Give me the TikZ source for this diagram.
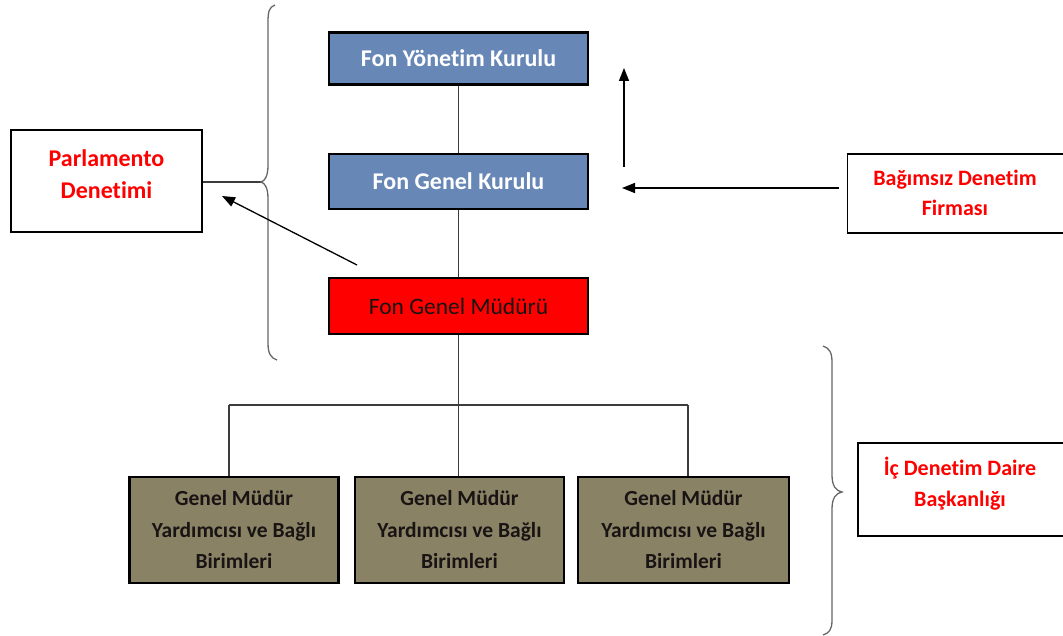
\documentclass[tikz,border=0pt]{standalone}
\usepackage{fontspec}
\setmainfont{Carlito}[Ligatures=NoCommon]
\usetikzlibrary{arrows.meta}
\definecolor{boardblue}{RGB}{103,135,183}
\definecolor{unitolive}{RGB}{138,130,101}
\definecolor{txtdark}{RGB}{25,20,20}
\definecolor{lineg}{RGB}{60,60,60}
\tikzset{
  orgbox/.style={draw=black, line width=2.2pt, rectangle, inner sep=0pt, align=center},
  bluebox/.style={orgbox, fill=boardblue, text=white, minimum width=259pt, minimum height=52pt,
    font=\fontsize{24}{30}\selectfont\bfseries},
  unitbox/.style={orgbox, fill=unitolive, text=txtdark, minimum width=209pt, minimum height=106pt,
    font=\fontsize{21.5}{31.5}\selectfont\bfseries},
  auditbox/.style={draw=black, line width=1.2pt, rectangle, inner sep=0pt, fill=white},
  audittxt/.style={text=red, align=center, inner sep=0pt},
  conn/.style={draw=lineg, line width=1.3pt},
  brace/.style={draw=gray!80!black, line width=1.3pt},
  arr/.style={draw=black, line width=1.5pt, -{Triangle[length=13pt,width=10pt]}}
}
\begin{document}
\begin{tikzpicture}[x=1pt,y=-1pt]
\useasboundingbox (0,0) rectangle (1063,636);

% management chain
\node[bluebox] (fyk) at (458.5,58.5) {Fon Yönetim Kurulu};
\node[bluebox, minimum height=55pt] (fgk) at (458.5,181.5) {Fon Genel Kurulu};
\node[orgbox, fill=red, text=txtdark, minimum width=259pt, minimum height=56pt,
  font=\fontsize{23.5}{30}\selectfont] (fgm) at (458.5,306) {Fon Genel Müdürü};

% units under the general manager
\node[unitbox] (u1) at (234,530) {Genel Müdür\\Yardımcısı ve Bağlı\\Birimleri};
\node[unitbox] (u2) at (459.5,530) {Genel Müdür\\Yardımcısı ve Bağlı\\Birimleri};
\node[unitbox, minimum width=211pt] (u3) at (683.5,530) {Genel Müdür\\Yardımcısı ve Bağlı\\Birimleri};

\draw[conn] (fyk.south) -- (fgk.north);
\draw[conn] (fgk.south) -- (fgm.north);
\coordinate (busl) at (229,405);
\coordinate (busr) at (688,405);
\coordinate (bus) at (fgm.south |- busl);
\draw[conn] (fgm.south) -- (bus);
\draw[conn] (busl) -- (busr);
\draw[conn] (busl) -- (busl |- u1.north);
\draw[conn] (bus) -- (bus |- u2.north);
\draw[conn] (busr) -- (busr |- u3.north);

% parliamentary audit
\node[auditbox, minimum width=191pt, minimum height=102pt] (parl) at (106.5,181) {};
\node[audittxt, font=\fontsize{24}{32}\selectfont\bfseries] (parlt) at (106.5,174) {Parlamento\\Denetimi};
\coordinate (lbtip) at (261,182);
\draw[conn] (parl.east |- lbtip) -- (lbtip);
\draw[brace] (275,5) .. controls (269,7) and (268,12) .. (268,22) -- (268,165)
  .. controls (268,176) and (265,181) .. (lbtip)
  .. controls (265,183) and (268,188) .. (268,199) -- (268,343)
  .. controls (268,354) and (271,358) .. (277,360);
\coordinate (pa1) at (357,265);
\coordinate (pa2) at (222,196);
\draw[arr, line width=1.3pt] (pa1) -- (pa2);

% independent audit firm
\node[auditbox, minimum width=217pt, minimum height=79pt] (bdf) at (956,193.5) {};
\node[audittxt, font=\fontsize{22}{30}\selectfont\bfseries] (bdft) at (955,193) {Bağımsız Denetim\\Firması};
\coordinate (ba1) at (839,188);
\coordinate (ba2) at (622,188);
\coordinate (ua1) at (624,167);
\coordinate (ua2) at (624,68);
\draw[arr] (ba1) -- (ba2);
\draw[arr] (ua1) -- (ua2);

% internal audit department
\node[auditbox, minimum width=207pt, minimum height=93pt] (ida) at (961.5,489.5) {};
\node[audittxt, font=\fontsize{22}{31}\selectfont\bfseries] (idat) at (960,484) {İç Denetim Daire\\Başkanlığı};
\coordinate (rbtip) at (842,492);
\draw[brace] (823,346) .. controls (829,348) and (832,352) .. (832,362) -- (832,475)
  .. controls (832,486) and (836,491) .. (rbtip)
  .. controls (836,493) and (832,498) .. (832,509) -- (832,620)
  .. controls (832,630) and (829,633) .. (823,635);
\end{tikzpicture}
\end{document}
